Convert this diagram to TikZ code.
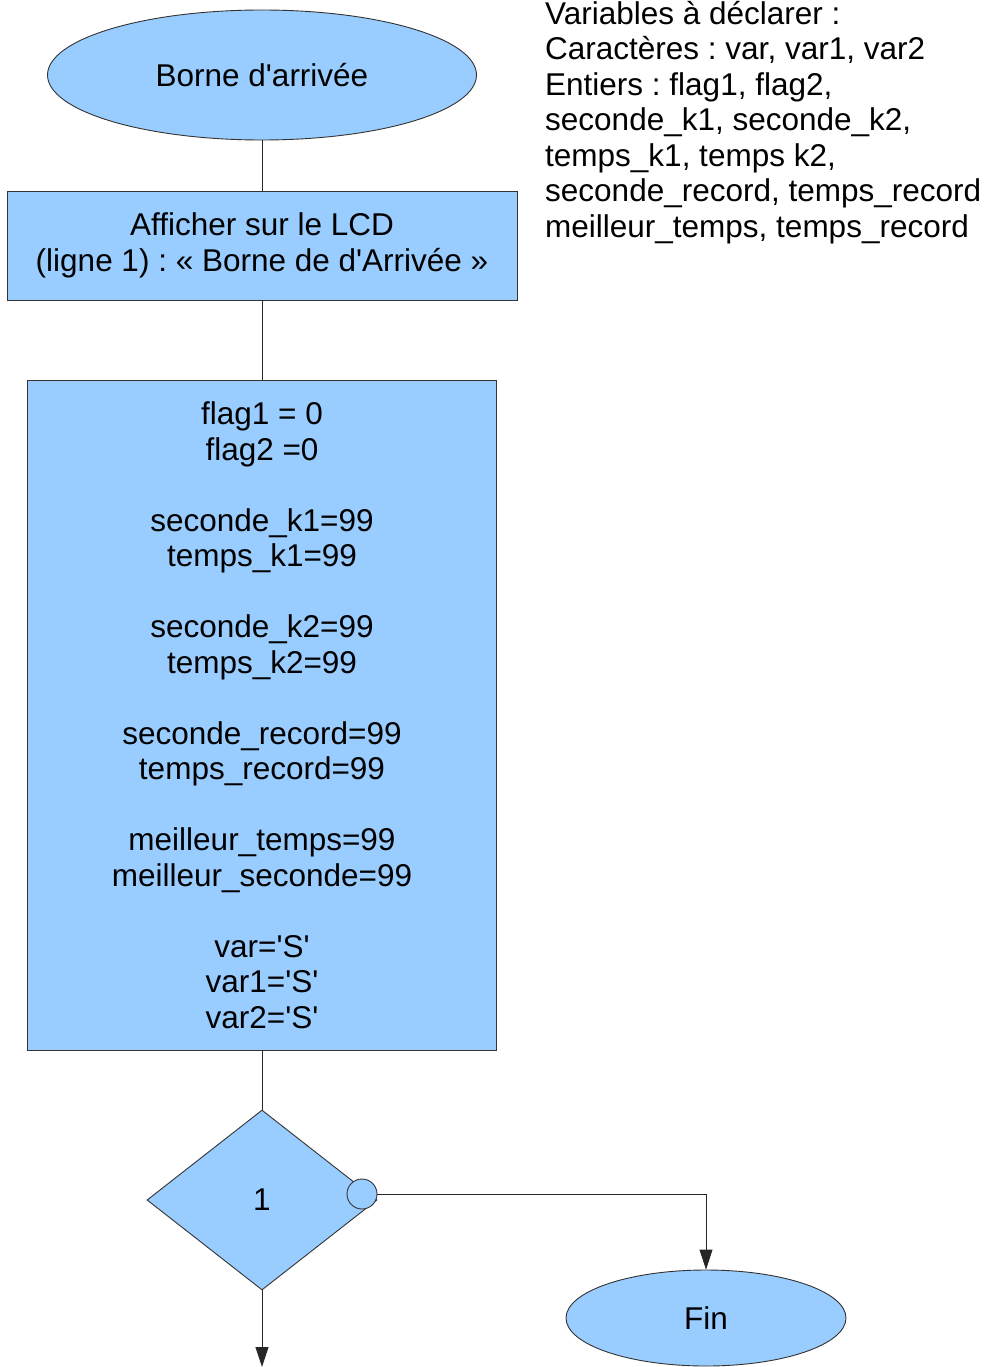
\documentclass[tikz,border=0pt]{standalone}
\usepackage{fontspec}
\newfontfamily\arial{Liberation Sans}
\usetikzlibrary{shapes.geometric,arrows.meta}
\definecolor{bleu}{RGB}{153,204,255}
\frenchspacing

\begin{document}
\begin{tikzpicture}[x=1pt,y=-1pt]
\tikzstyle{every node}=[font=\arial\fontsize{31.5}{35.5}\selectfont, inner sep=0pt]
\tikzstyle{bloc}=[draw=black!80, fill=bleu, line width=.9pt]
\tikzstyle{fleche}=[draw=black!85, line width=.9pt, -{Triangle[length=20pt,width=13pt]}]
\useasboundingbox (0,0) rectangle (989,1367);
\draw (262,75) node (debut) [bloc,ellipse,minimum width=429pt,minimum height=130pt] {Borne d'arrivée};
\draw (262,245.5) node (lcd) [bloc,rectangle,minimum width=510pt,minimum height=109pt,align=center] {Afficher sur le LCD\\(ligne 1) : « Borne de d'Arrivée »};
\draw (262,715) node (init) [bloc,rectangle,minimum width=469pt,minimum height=670pt,align=center] {flag1 = 0\\flag2 =0\\[35.5pt]seconde\_k1=99\\temps\_k1=99\\[35.5pt]seconde\_k2=99\\temps\_k2=99\\[35.5pt]seconde\_record=99\\temps\_record=99\\[35.5pt]meilleur\_temps=99\\meilleur\_seconde=99\\[35.5pt]var='S'\\var1='S'\\var2='S'};
\draw (262,1200) node (test) [bloc,diamond,minimum width=230pt,minimum height=180pt] {1};
\draw (362,1194) node (non) [bloc,circle,minimum size=30pt] {};
\draw (706,1318) node (fin) [bloc,ellipse,minimum width=280pt,minimum height=96pt] {Fin};
\draw (262,1367) coordinate (suite);
\draw (545,1) node (vars) [anchor=north west,align=left] {Variables à déclarer :\\Caractères : var, var1, var2\\Entiers : flag1, flag2,\\seconde\_k1, seconde\_k2,\\temps\_k1, temps k2,\\seconde\_record, temps\_record\\meilleur\_temps, temps\_record};
\draw[black!85,line width=.9pt] (debut) -- (lcd);
\draw[black!85,line width=.9pt] (lcd) -- (init);
\draw[black!85,line width=.9pt] (init) -- (test);
\draw[fleche] (non) -| (fin);
\draw[fleche] (test) -- (suite);
\end{tikzpicture}
\end{document}
